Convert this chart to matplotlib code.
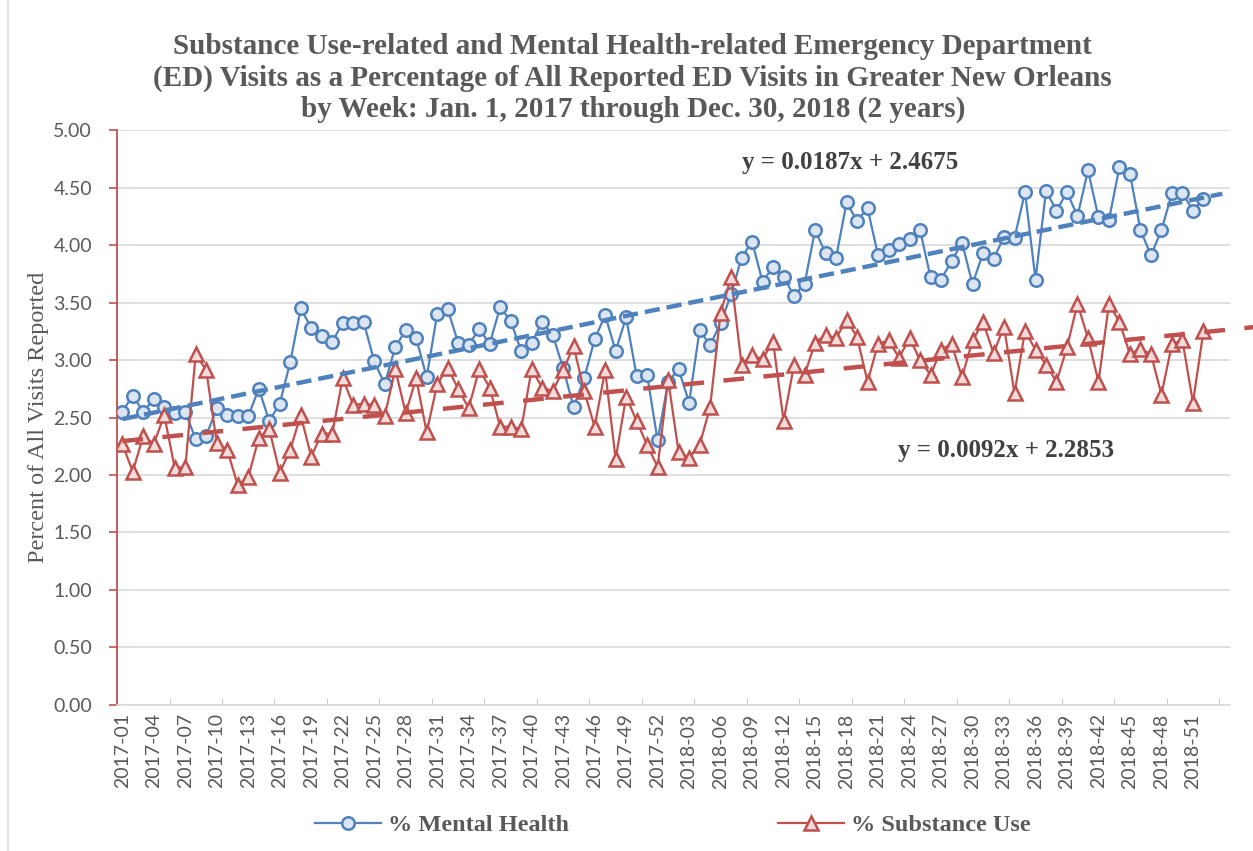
import numpy as np
import matplotlib
matplotlib.use("Agg")
import matplotlib.pyplot as plt
from matplotlib.lines import Line2D

plt.rcParams['lines.scale_dashes'] = False

# weekly labels 2017-01 .. 2018-52
weeks = ["2017-%02d" % w for w in range(1, 53)] + ["2018-%02d" % w for w in range(1, 53)]

mental = [2.55, 2.69, 2.55, 2.66, 2.59, 2.54, 2.55, 2.31, 2.34, 2.58,
          2.52, 2.51, 2.51, 2.75, 2.47, 2.62, 2.98, 3.45, 3.28, 3.21,
          3.16, 3.32, 3.32, 3.33, 2.99, 2.79, 3.11, 3.26, 3.19, 2.85,
          3.40, 3.44, 3.15, 3.13, 3.27, 3.14, 3.46, 3.34, 3.08, 3.15,
          3.33, 3.22, 2.93, 2.59, 2.84, 3.18, 3.39, 3.08, 3.37, 2.86,
          2.87, 2.30, 2.81, 2.92, 2.63, 3.26, 3.13, 3.32, 3.57, 3.89,
          4.03, 3.68, 3.81, 3.72, 3.56, 3.66, 4.13, 3.93, 3.89, 4.37,
          4.21, 4.32, 3.91, 3.96, 4.01, 4.05, 4.13, 3.72, 3.70, 3.86,
          4.02, 3.66, 3.93, 3.88, 4.07, 4.06, 4.46, 3.70, 4.47, 4.30,
          4.46, 4.25, 4.65, 4.24, 4.22, 4.68, 4.62, 4.13, 3.91, 4.13,
          4.45, 4.45, 4.30, 4.40]

substance = [2.27, 2.03, 2.34, 2.27, 2.52, 2.06, 2.07, 3.05, 2.91, 2.28,
             2.22, 1.91, 1.98, 2.32, 2.40, 2.02, 2.22, 2.52, 2.16, 2.36,
             2.36, 2.84, 2.61, 2.62, 2.61, 2.51, 2.92, 2.54, 2.84, 2.37,
             2.79, 2.93, 2.75, 2.58, 2.92, 2.76, 2.42, 2.42, 2.40, 2.92,
             2.76, 2.73, 2.91, 3.12, 2.73, 2.42, 2.91, 2.14, 2.68, 2.47,
             2.26, 2.07, 2.83, 2.20, 2.15, 2.26, 2.59, 3.41, 3.72, 2.96,
             3.04, 3.01, 3.16, 2.47, 2.96, 2.87, 3.15, 3.22, 3.19, 3.35,
             3.20, 2.81, 3.14, 3.17, 3.02, 3.19, 3.00, 2.87, 3.09, 3.14,
             2.85, 3.17, 3.33, 3.06, 3.29, 2.71, 3.25, 3.09, 2.96, 2.81,
             3.11, 3.49, 3.19, 2.81, 3.49, 3.33, 3.05, 3.10, 3.05, 2.70,
             3.14, 3.17, 2.63, 3.25]

mh_fit = (0.0187, 2.4675)
su_fit = (0.0092, 2.2853)

blue = '#4F81BD'
red = '#C0504D'
gray = '#595959'
serif = 'Liberation Serif'
sans = 'Lato'

fig = plt.figure(figsize=(12.53, 8.51), dpi=100)
ax = fig.add_axes([0.0934, 0.1716, 0.8880, 0.6756])

x = np.arange(len(weeks))
ax.plot(x, mental, color=blue, lw=1.6, marker='o', ms=9, mfc='#DCE6F2',
        mec=blue, mew=1.8, zorder=3, label='% Mental Health')
ax.plot(x, substance, color=red, lw=1.6, marker='^', ms=10, mfc='#F2DCDB',
        mec=red, mew=1.8, zorder=3, label='% Substance Use')

# linear trendlines (Excel x starts at 1)
tb = np.array([0, 104.8])
ax.plot(tb, mh_fit[0] * (tb + 1) + mh_fit[1], color=blue, lw=3.2,
        dashes=(11, 5), zorder=4)
tr = np.array([0, 108.5])
ax.plot(tr, su_fit[0] * (tr + 1) + su_fit[1], color=red, lw=3.2,
        dashes=(15, 14), zorder=4, clip_on=False)

fig.text(850 / 1253, 1 - 162 / 851, 'y = 0.0187x + 2.4675', ha='center', va='center',
         fontsize=18, fontweight='bold', family=serif, color='#404040')
fig.text(1006 / 1253, 1 - 451 / 851, 'y = 0.0092x + 2.2853', ha='center', va='center',
         fontsize=18, fontweight='bold', family=serif, color='#404040')

ax.set_xlim(-0.5, 105.5)
ax.set_ylim(0, 5)
ax.set_yticks(np.arange(0, 5.01, 0.5))
ax.set_yticklabels(['%.2f' % v for v in np.arange(0, 5.01, 0.5)],
                   family=sans, fontsize=14, color=gray)
ax.set_xticks(x[::3])
ax.set_xticklabels(weeks[::3], rotation=90, family=sans, fontsize=14, color=gray)
ax.set_xticks(np.arange(-0.5, 105, 5), minor=True)
ax.tick_params(axis='x', which='major', length=0, pad=6)
ax.tick_params(axis='x', which='minor', direction='in', length=5, color='#BFBFBF')
ax.tick_params(axis='y', direction='out', length=6, color=red, width=1.2, pad=12)

ax.grid(axis='y', color='#D9D9D9', lw=1.2)
ax.set_axisbelow(True)
for s in ['top', 'right']:
    ax.spines[s].set_visible(False)
ax.spines['left'].set_color(red)
ax.spines['left'].set_linewidth(1.3)
ax.spines['bottom'].set_color('#D9D9D9')
ax.spines['bottom'].set_linewidth(1.2)

ax.set_ylabel('Percent of All Visits Reported', family=serif, fontsize=17.5,
              color=gray, labelpad=3)

fig.text(0.505, 1 - 78 / 851,
         'Substance Use-related and Mental Health-related Emergency Department\n'
         '(ED) Visits as a Percentage of All Reported ED Visits in Greater New Orleans\n'
         'by Week: Jan. 1, 2017 through Dec. 30, 2018 (2 years)',
         ha='center', va='center', fontsize=21, fontweight='bold', family=serif,
         color=gray, linespacing=1.22)

leg = fig.legend(loc='center', bbox_to_anchor=(0.537, 1 - 825 / 851), ncol=2,
                 frameon=False, handlelength=2.7, handletextpad=0.3, columnspacing=8.6,
                 prop={'family': serif, 'weight': 'bold', 'size': 17.5})
for t in leg.get_texts():
    t.set_color(gray)

fig.add_artist(Line2D([8 / 1253, 8 / 1253], [0, 1], color='#D9D9D9', lw=1.2))

fig.savefig('out.png', dpi=100)
